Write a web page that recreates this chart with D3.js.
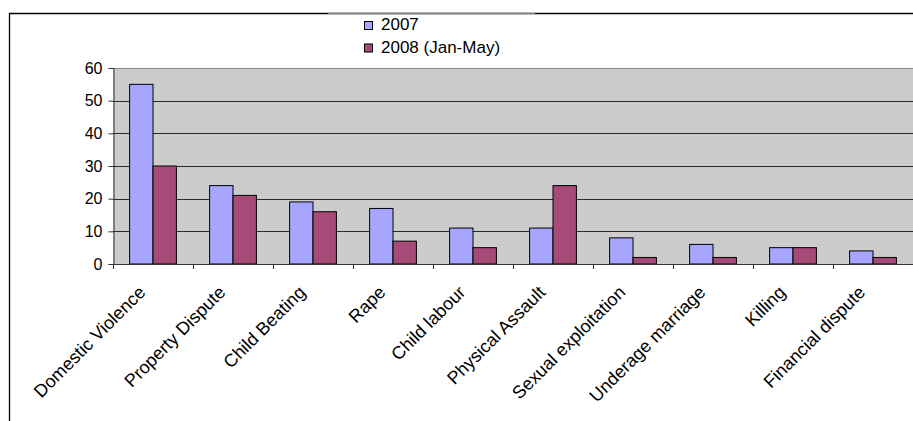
<!DOCTYPE html>
<html>
<head>
<meta charset="utf-8">
<script src="https://cdn.jsdelivr.net/npm/d3@7/dist/d3.min.js"></script>
<style>
html,body{margin:0;padding:0;background:#fff;}
svg{display:block;font-family:"Liberation Sans",Arial,sans-serif;}
</style>
</head>
<body>
<svg id="chart" width="913" height="421"></svg>
<script>
const categories = ["Domestic Violence","Property Dispute","Child Beating","Rape","Child labour","Physical Assault","Sexual exploitation","Underage marriage","Killing","Financial dispute"];
const seriesNames = ["2007","2008 (Jan-May)"];
const values2007 = [55,24,19,17,11,11,8,6,5,4];
const values2008 = [30,21,16,7,5,24,2,2,5,2];
const yTicks = [0,10,20,30,40,50,60];
const colors = ["#a6a6ff","#a84a77"];

(function(){
const svg = d3.select("#chart");
const pL = 113, pR = 913, pT = 68, pB = 264;

// outer chart border
svg.append("path").attr("d","M9.5,421 V13.5 H913").attr("fill","none").attr("stroke","#000").attr("stroke-width",1.3);
svg.append("line").attr("x1",328).attr("x2",535).attr("y1",13.5).attr("y2",13.5).attr("stroke","#8a8a8a").attr("stroke-width",1.4);

const x0 = d3.scaleBand().domain(categories).range([pL,pR]).padding(0);
const x1 = d3.scaleBand().domain(seriesNames).range([0,x0.bandwidth()]).paddingInner(0).paddingOuter(0.71);
const y = d3.scaleLinear().domain([0,60]).range([pB,pT]);

// plot area
svg.append("rect").attr("x",pL).attr("y",pT).attr("width",pR-pL).attr("height",pB-pT).attr("fill","#cccccc");

// gridlines
svg.append("g").selectAll("line").data(yTicks.filter(d=>d>0)).join("line")
  .attr("x1",pL).attr("x2",pR)
  .attr("y1",d=>Math.round(y(d))+0.5).attr("y2",d=>Math.round(y(d))+0.5)
  .attr("stroke",d=>d===60?"#8c8c8c":"#2a2a2a").attr("stroke-width",1);

// bars
const data = categories.map((c,i)=>({cat:c, vals:[values2007[i],values2008[i]]}));
const groups = svg.append("g").selectAll("g").data(data).join("g")
  .attr("transform",d=>`translate(${x0(d.cat)},0)`);
groups.selectAll("rect").data(d=>d.vals.map((v,j)=>({name:seriesNames[j],v,j}))).join("rect")
  .attr("x",d=>x1(d.name)).attr("width",x1.bandwidth())
  .attr("y",d=>y(d.v)).attr("height",d=>y(0)-y(d.v))
  .attr("fill",d=>colors[d.j]).attr("stroke","#000").attr("stroke-width",1);

// y axis
const yAxis = d3.axisLeft(y).tickValues(yTicks).tickSize(5).tickPadding(6).tickFormat(d3.format("d"));
const gy = svg.append("g").attr("transform",`translate(${pL+0.5},0)`).call(yAxis);
gy.select(".domain").attr("stroke","#333");
gy.selectAll(".tick line").attr("stroke","#333");
gy.selectAll("text").attr("font-size",16).attr("fill","#000").attr("font-family","Liberation Sans, Arial, sans-serif");

// x axis (ticks at category boundaries)
const xAxisLine = svg.append("g");
xAxisLine.append("line").attr("x1",pL).attr("x2",pR).attr("y1",pB+0.5).attr("y2",pB+0.5).attr("stroke","#333");
xAxisLine.selectAll("line.t").data(categories).join("line").attr("class","t")
  .attr("x1",d=>x0(d)+0.5).attr("x2",d=>x0(d)+0.5).attr("y1",pB).attr("y2",pB+5).attr("stroke","#333");

// x labels
svg.append("g").selectAll("text").data(categories).join("text")
  .attr("transform",d=>`translate(${x0(d)+x0.bandwidth()/2-11},${pB+25}) rotate(-45)`)
  .attr("text-anchor","end").attr("font-size",18).attr("fill","#000").attr("dy","0.35em")
  .text(d=>d);

// legend
const lg = svg.append("g").selectAll("g").data(seriesNames).join("g")
  .attr("transform",(d,i)=>`translate(364,${21+i*22.5})`);
lg.append("rect").attr("x",0.5).attr("y",0.5).attr("width",8).attr("height",8)
  .attr("fill",(d,i)=>colors[i]).attr("stroke","#000").attr("stroke-width",1);
lg.append("text").attr("x",17).attr("y",9).attr("font-size",17).attr("fill","#000").text(d=>d);
})();
</script>
</body>
</html>
